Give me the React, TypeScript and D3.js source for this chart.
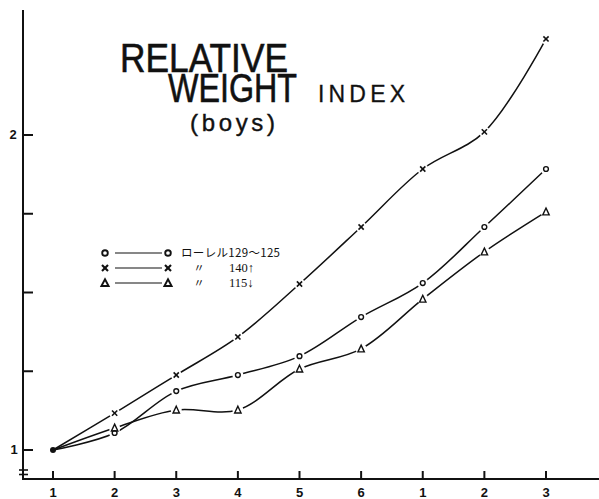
import React from "react";
import * as d3 from "d3";

const xLabels = ["1", "2", "3", "4", "5", "6", "1", "2", "3"];
const xIndex = [1, 2, 3, 4, 5, 6, 7, 8, 9];
const yTicks = [1, 1.25, 1.5, 1.75, 2];
const yLabels = [
  { v: 1, t: "1" },
  { v: 2, t: "2" },
];
const seriesCircle = [1.0, 1.054, 1.187, 1.238, 1.298, 1.422, 1.53, 1.708, 1.892];
const seriesCross = [1.0, 1.117, 1.238, 1.359, 1.527, 1.708, 1.892, 2.01, 2.305];
const seriesTriangle = [1.0, 1.07, 1.127, 1.127, 1.257, 1.321, 1.479, 1.629, 1.756];
const legendLabels = ["ローレル129〜125", "140↑", "115↓"];

type Kind = "circle" | "cross" | "triangle";

function Marker({ kind, x, y, bold }: { kind: Kind; x: number; y: number; bold?: boolean }) {
  const sw = bold ? 1.9 : 1.4;
  if (kind === "circle")
    return <circle cx={x} cy={y} r={bold ? 2.8 : 2.4} fill="none" stroke="#111" strokeWidth={sw} />;
  if (kind === "cross") {
    const s = bold ? 3 : 2.6;
    return (
      <g stroke="#111" strokeWidth={sw + 0.2}>
        <line x1={x - s} y1={y - s} x2={x + s} y2={y + s} />
        <line x1={x - s} y1={y + s} x2={x + s} y2={y - s} />
      </g>
    );
  }
  const t = bold ? 3.6 : 3.2;
  return (
    <path
      d={`M${x},${y - 3.8}L${x + t},${y + 3}L${x - t},${y + 3}Z`}
      fill="none"
      stroke="#111"
      strokeWidth={sw}
    />
  );
}

export default function App() {
  const W = 599;
  const H = 499;
  const x = d3.scaleLinear().domain([1, 9]).range([53, 546]);
  const y = d3.scaleLinear().domain([1, 2]).range([450, 135]);
  const axisX = 23;
  const axisY = 479;

  const series: { kind: Kind; values: number[] }[] = [
    { kind: "cross", values: seriesCross },
    { kind: "circle", values: seriesCircle },
    { kind: "triangle", values: seriesTriangle },
  ];

  const line = d3
    .line<number>()
    .x((_, i) => x(xIndex[i]))
    .y((d) => y(d))
    .curve(d3.curveCatmullRom.alpha(0.5));

  const ink = "#111";

  return (
    <svg
      width={W}
      height={H}
      style={{ position: "absolute", left: 0, top: 0, background: "#fff" }}
    >
      <rect width={W} height={H} fill="#fff" />
      {/* Title */}
      <text
        fill={ink}
        stroke={ink}
        strokeWidth={0.6}
        fontFamily="'Liberation Sans Narrow','Liberation Sans',Arial,sans-serif"
      >
        <tspan x={120} y={72} fontSize={40} textLength={168} lengthAdjust="spacingAndGlyphs">
          RELATIVE
        </tspan>
        <tspan x={168} y={102} fontSize={40} textLength={129} lengthAdjust="spacingAndGlyphs">
          WEIGHT
        </tspan>
        <tspan x={318} y={102} fontSize={23} textLength={87} lengthAdjust="spacing" strokeWidth={0.3}>
          INDEX
        </tspan>
      </text>
      <text
        x={190}
        y={131}
        fontSize={24}
        textLength={85}
        lengthAdjust="spacing"
        fill={ink}
        stroke={ink}
        strokeWidth={0.4}
        fontFamily="'Liberation Sans',Arial,sans-serif"
      >
        (boys)
      </text>

      {/* Y axis */}
      <line x1={axisX} y1={10} x2={axisX} y2={axisY} stroke={ink} strokeWidth={2} />
      {yTicks.map((t) => (
        <line key={t} x1={axisX} x2={axisX + 10} y1={y(t)} y2={y(t)} stroke={ink} strokeWidth={2} />
      ))}
      {yLabels.map((l) => (
        <text
          key={l.t}
          x={l.t === "1" ? 14 : 13}
          y={y(l.v) + 4}
          fontSize={13}
          fontWeight="bold"
          textAnchor="middle"
          fontFamily="'Liberation Sans',Arial,sans-serif"
          fill={ink}
        >
          {l.t}
        </text>
      ))}
      {/* axis break */}
      <line x1={axisX - 4} x2={axisX + 5} y1={470} y2={470} stroke={ink} strokeWidth={1.6} />
      <line x1={axisX - 4} x2={axisX + 5} y1={474.5} y2={474.5} stroke={ink} strokeWidth={1.6} />

      {/* X axis */}
      <line x1={axisX - 1} y1={axisY} x2={W} y2={axisY} stroke={ink} strokeWidth={2} />
      {xIndex.map((v, i) => (
        <g key={i}>
          <line x1={x(v)} x2={x(v)} y1={axisY - 8} y2={axisY} stroke={ink} strokeWidth={2} />
          <text
            x={x(v)}
            y={axisY + 18}
            fontSize={13}
            fontWeight="bold"
            textAnchor="middle"
            fontFamily="'Liberation Sans',Arial,sans-serif"
            fill={ink}
          >
            {xLabels[i]}
          </text>
        </g>
      ))}

      {/* Lines */}
      {series.map((s) => (
        <path key={s.kind} d={line(s.values) || ""} fill="none" stroke={ink} strokeWidth={1.5} />
      ))}
      {/* gaps around markers */}
      {series.map((s) =>
        s.values.slice(1).map((v, i) => (
          <circle key={s.kind + i} cx={x(xIndex[i + 1])} cy={y(v)} r={5.5} fill="#fff" />
        ))
      )}
      {series.map((s) =>
        s.values.slice(1).map((v, i) => (
          <Marker key={s.kind + "m" + i} kind={s.kind} x={x(xIndex[i + 1])} y={y(v)} />
        ))
      )}
      <circle cx={x(1)} cy={y(1)} r={3} fill={ink} />

      {/* Legend */}
      {(["circle", "cross", "triangle"] as Kind[]).map((k, i) => {
        const ly = [253, 268, 283][i];
        return (
          <g key={k}>
            <Marker kind={k} x={105} y={ly} bold />
            <line x1={115} x2={162} y1={ly} y2={ly} stroke={ink} strokeWidth={1.2} />
            <Marker kind={k} x={168} y={ly} bold />
            {i === 0 ? (
              <text
                x={181}
                y={ly + 4}
                fontSize={11.5}
                fill={ink}
                fontFamily="'Noto Sans CJK JP','Liberation Serif',serif"
                textLength={99}
                lengthAdjust="spacing"
              >
                {legendLabels[0]}
              </text>
            ) : (
              <g>
                <text
                  x={199}
                  y={ly + 4}
                  fontSize={11}
                  fill={ink}
                  textAnchor="middle"
                  fontFamily="'Noto Sans CJK JP',serif"
                >
                  〃
                </text>
                <text
                  x={229}
                  y={ly + 4}
                  fontSize={12.5}
                  fill={ink}
                  fontFamily="'Liberation Serif','Noto Sans CJK JP',serif"
                >
                  {legendLabels[i]}
                </text>
              </g>
            )}
          </g>
        );
      })}
    </svg>
  );
}
